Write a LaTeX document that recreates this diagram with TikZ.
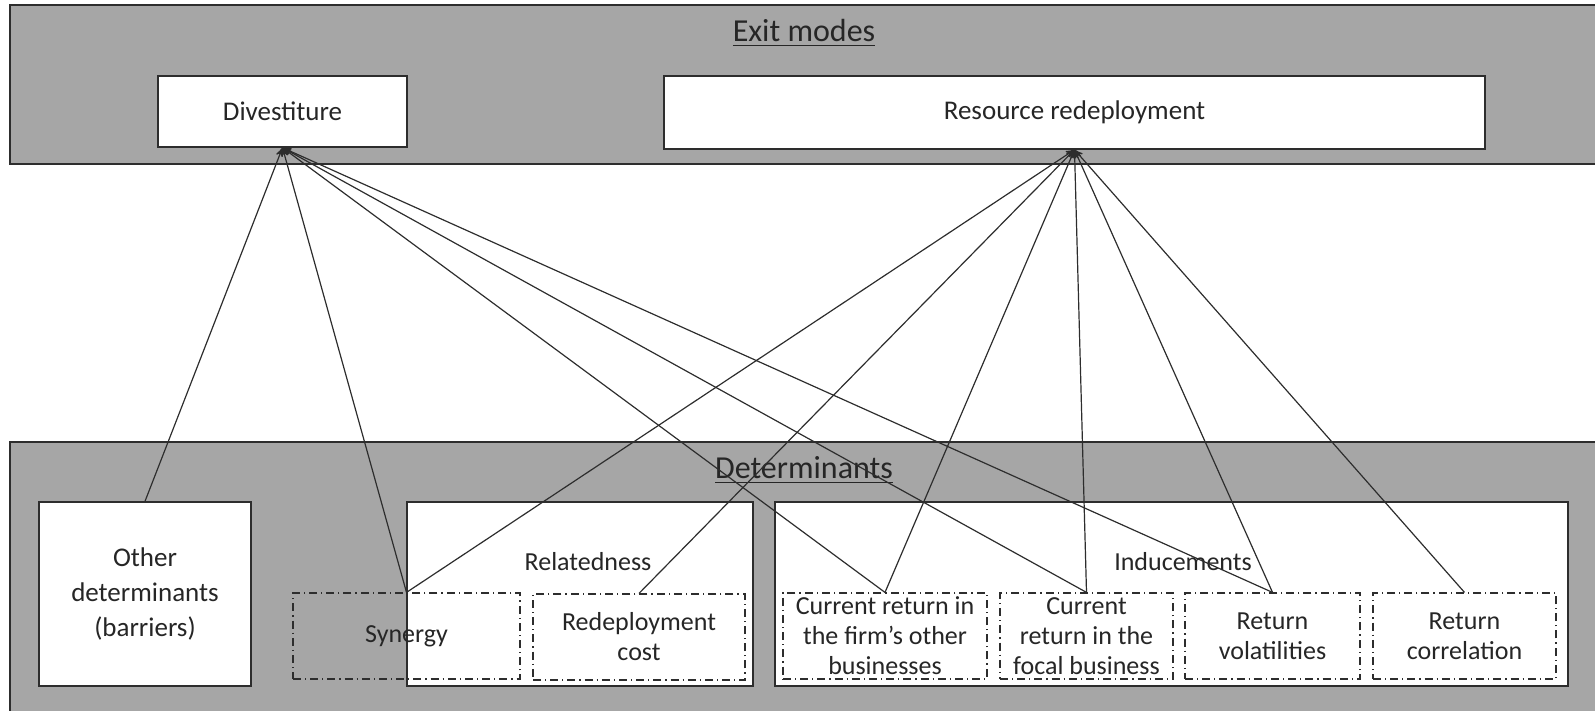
\documentclass[tikz,border=0pt]{standalone}
\usepackage{fontspec}
\setmainfont{Carlito}
\usetikzlibrary{arrows,positioning}
\definecolor{panelgray}{RGB}{166,166,166}
\definecolor{edgegray}{RGB}{45,45,45}
\begin{document}
\begin{tikzpicture}[x=0.5pt,y=-0.5pt,>=stealth',line width=0.6pt,
	every node/.style={text=black!85,font=\fontsize{13}{15}\selectfont,inner sep=0pt},
	panel/.style={draw=edgegray,fill=panelgray,line width=0.7pt},
	modebox/.style={draw=edgegray,fill=white,line width=0.7pt,font=\fontsize{13.5}{17}\selectfont},
	groupbox/.style={draw=edgegray,fill=white,line width=0.7pt,minimum height=92pt},
	factor/.style={draw=edgegray,dash pattern=on 4pt off 2pt on 0.6pt off 2pt,line width=0.6pt,align=center,minimum height=43pt},
	title/.style={font=\fontsize{16}{19}\selectfont}]
	\useasboundingbox (0,0) rectangle (1595,711);
	% panels
	\node[panel,minimum width=795pt,minimum height=79.5pt] (top) at (805,84.5) {};
	\node[panel,minimum width=795pt,minimum height=136.5pt] (bottom) at (805,578.5) {};
	\node[title] (exit) at (804,33) {\underline{Exit modes}};
	\node[title] (det) at (804,470) {\underline{Determinants}};
	% exit modes
	\node[modebox,minimum width=124.5pt,minimum height=35.5pt] (div) at (282.5,111.5) {Divestiture};
	\node[modebox,minimum width=410.5pt,minimum height=36.5pt] (rr) at (1074.5,112.5) {Resource redeployment};
	% determinants
	\node[groupbox,minimum width=106pt,align=center,font=\fontsize{13.5}{17.5}\selectfont] (other) at (145,594) {Other\\determinants\\(barriers)};
	\node[groupbox,minimum width=173pt] (rel) at (580,594) {};
	\node[groupbox,minimum width=396.5pt] (ind) at (1171.5,594) {};
	\node (rellab) at (588,562) {Relatedness};
	\node (indlab) at (1183,562) {Inducements};
	\node[factor,minimum width=113.5pt] (syn) at (406.5,636) {Synergy};
	\node[factor,minimum width=106pt] (cost) at (639,637) {Redeployment\\cost};
	\node[factor,minimum width=102pt] (cfirm) at (885,636) {Current return in\\the firm’s other\\businesses};
	\node[factor,minimum width=86.5pt] (cfocal) at (1086.5,636) {Current\\return in the\\focal business};
	\node[factor,minimum width=87.5pt] (vol) at (1272.5,636) {Return\\volatilities};
	\node[factor,minimum width=91.5pt] (corr) at (1464.5,636) {Return\\correlation};
	% links
	\foreach \src in {other,syn,cfirm,cfocal,vol}
		\draw[->,edgegray] (\src.north) -- (div.south);
	\foreach \src in {syn,cost,cfirm,cfocal,vol,corr}
		\draw[->,edgegray] (\src.north) -- (rr.south);
\end{tikzpicture}
\end{document}
